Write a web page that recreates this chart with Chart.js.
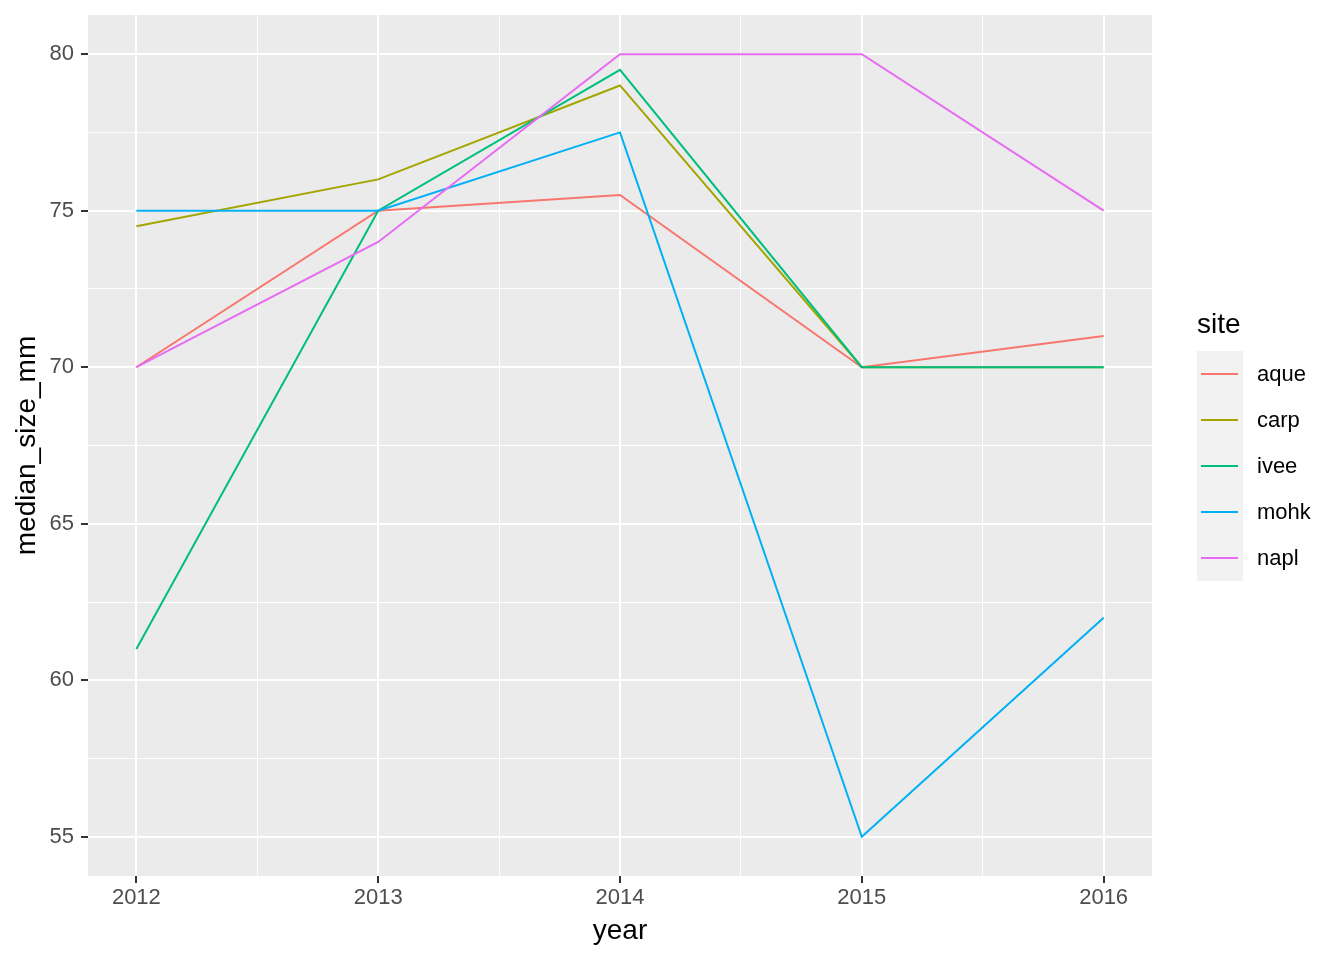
<!DOCTYPE html>
<html lang="en">
  <head>
    <meta charset="UTF-8">
    <script src="https://cdn.jsdelivr.net/npm/chart.js"></script>
    <style>
      html, body { margin: 0; padding: 0; background: #fff; }
      #wrap { width: 1344px; height: 960px; }
    </style>
  </head>
  <body>
    <div id="wrap"><canvas id="sizeChart"></canvas></div>

    <script>
      // data
      const years = [2012, 2013, 2014, 2015, 2016];
      const sites = ['aque', 'carp', 'ivee', 'mohk', 'napl'];
      const aque = [70, 75, 75.5, 70, 71];
      const carp = [74.5, 76, 79, 70, 70];
      const ivee = [61, 75, 79.5, 70, 70];
      const mohk = [75, 75, 77.5, 55, 62];
      const napl = [70, 74, 80, 80, 75];
      const siteColors = ['#F8766D', '#A3A500', '#00BF7D', '#00B0F6', '#E76BF3'];

      // major + minor tick positions
      const xTicks = [2012, 2012.5, 2013, 2013.5, 2014, 2014.5, 2015, 2015.5, 2016];
      const yTicks = [55, 57.5, 60, 62.5, 65, 67.5, 70, 72.5, 75, 77.5, 80];

      const FONT = '"Liberation Sans", Arial, Helvetica, sans-serif';
      const seriesValues = [aque, carp, ivee, mohk, napl];

      const isMajorX = v => Number.isInteger(v);
      const isMajorY = v => v % 5 === 0;

      // grey panel behind the grid
      const panelBg = {
        id: 'panelBg',
        beforeDraw(chart) {
          const { ctx, chartArea: a } = chart;
          ctx.save();
          ctx.fillStyle = '#EBEBEB';
          ctx.fillRect(a.left, a.top, a.right - a.left, a.bottom - a.top);
          ctx.restore();
        }
      };

      // ggplot-style legend with grey key column
      const siteLegend = {
        id: 'siteLegend',
        afterDraw(chart) {
          const ctx = chart.ctx;
          const x0 = 1197, keyW = 46, top = 351, step = 46;
          const n = chart.data.datasets.length;
          ctx.save();
          ctx.fillStyle = '#000';
          ctx.font = '28px ' + FONT;
          ctx.textBaseline = 'alphabetic';
          ctx.textAlign = 'left';
          ctx.fillText('site', x0, 333);
          ctx.fillStyle = '#F2F2F2';
          ctx.fillRect(x0, top, keyW, step * n);
          ctx.font = '22px ' + FONT;
          ctx.textBaseline = 'middle';
          chart.data.datasets.forEach((ds, i) => {
            const y = top + step * i + step / 2;
            ctx.strokeStyle = ds.borderColor;
            ctx.lineWidth = 2;
            ctx.beginPath();
            ctx.moveTo(x0 + 4, y);
            ctx.lineTo(x0 + keyW - 5, y);
            ctx.stroke();
            ctx.fillStyle = '#000';
            ctx.fillText(ds.label, 1257, y + 1);
          });
          ctx.restore();
        }
      };

      const datasets = sites.map((s, i) => ({
        label: s,
        data: years.map((yr, j) => ({ x: yr, y: seriesValues[i][j] })),
        borderColor: siteColors[i],
        backgroundColor: siteColors[i],
        borderWidth: 2,
        pointRadius: 0,
        tension: 0,
        fill: false,
        order: sites.length - i   // later sites on top, like ggplot
      }));

      new Chart(document.getElementById('sizeChart').getContext('2d'), {
        type: 'line',
        data: { datasets },
        plugins: [panelBg, siteLegend],
        options: {
          responsive: true,
          maintainAspectRatio: false,
          animation: false,
          layout: { padding: { top: 15, right: 192, bottom: 0, left: 0 } },
          plugins: {
            legend: { display: false },
            tooltip: { enabled: false }
          },
          scales: {
            x: {
              type: 'linear',
              min: 2011.8,
              max: 2016.2,
              afterBuildTicks(scale) { scale.ticks = xTicks.map(v => ({ value: v })); },
              afterFit(scale) {
                scale.height = 84;
                scale.paddingLeft = 0;
                scale.paddingRight = 0;
              },
              border: { display: false },
              grid: {
                color: '#FFFFFF',
                lineWidth: c => (c.tick && isMajorX(c.tick.value) ? 2 : 1),
                tickColor: c => (c.tick && isMajorX(c.tick.value) ? '#333333' : 'rgba(0,0,0,0)'),
                tickLength: 7,
                tickWidth: 2
              },
              ticks: {
                autoSkip: false,
                maxRotation: 0,
                padding: 2,
                color: '#4D4D4D',
                font: { family: FONT, size: 22 },
                callback: v => (isMajorX(v) ? String(v) : '')
              },
              title: {
                display: true,
                text: 'year',
                color: '#000',
                font: { family: FONT, size: 28 },
                padding: { top: 0, bottom: 12 }
              }
            },
            y: {
              type: 'linear',
              min: 53.75,
              max: 81.25,
              afterBuildTicks(scale) { scale.ticks = yTicks.map(v => ({ value: v })); },
              afterFit(scale) {
                scale.width = 88;
                scale.paddingTop = 0;
                scale.paddingBottom = 0;
              },
              border: { display: false },
              grid: {
                color: '#FFFFFF',
                lineWidth: c => (c.tick && isMajorY(c.tick.value) ? 2 : 1),
                tickColor: c => (c.tick && isMajorY(c.tick.value) ? '#333333' : 'rgba(0,0,0,0)'),
                tickLength: 7,
                tickWidth: 2
              },
              ticks: {
                autoSkip: false,
                padding: 7,
                color: '#4D4D4D',
                font: { family: FONT, size: 22 },
                callback: v => (isMajorY(v) ? String(v) : '')
              },
              title: {
                display: true,
                text: 'median_size_mm',
                color: '#000',
                font: { family: FONT, size: 28 },
                padding: { top: 10, bottom: 0 }
              }
            }
          }
        }
      });
    </script>
  </body>
</html>
